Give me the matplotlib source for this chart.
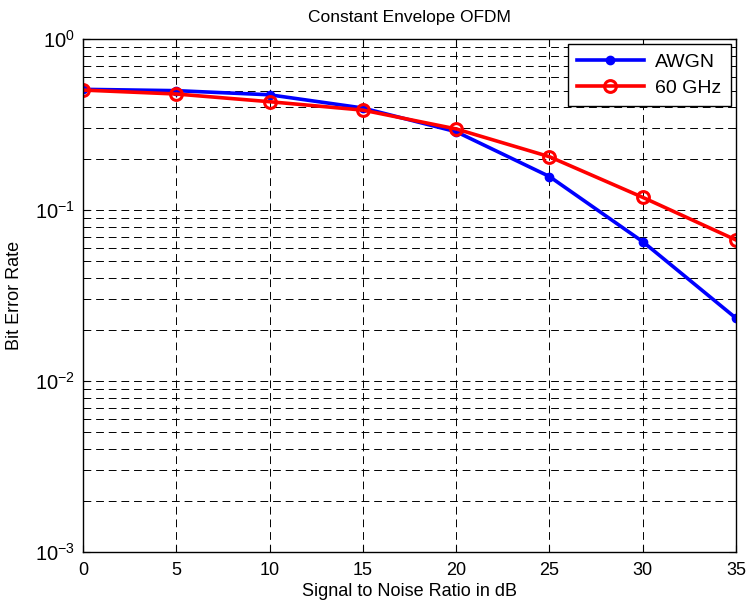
import matplotlib
matplotlib.use("Agg")
import matplotlib.pyplot as plt
from matplotlib.ticker import LogLocator, FixedLocator

plt.rcParams['font.family'] = ['Liberation Sans', 'DejaVu Sans']

# data
snr_db = [0, 5, 10, 15, 20, 25, 30, 35]
ber_awgn = [0.508, 0.499, 0.472, 0.395, 0.287, 0.157, 0.0653, 0.0233]
ber_60ghz = [0.503, 0.477, 0.430, 0.384, 0.298, 0.205, 0.1186, 0.0668]
x_ticks = [0, 5, 10, 15, 20, 25, 30, 35]

fig = plt.figure(figsize=(7.49, 6.07), dpi=100)
ax = fig.add_axes([0.1108, 0.0906, 0.8719, 0.8451])

ax.semilogy(snr_db, ber_awgn, color='blue', lw=2.6, marker='o', ms=6,
            mfc='blue', mec='blue', label='AWGN')
ax.semilogy(snr_db, ber_60ghz, color='red', lw=2.6, marker='o', ms=8.5,
            mfc='none', mec='red', mew=2.2, label='60 GHz')

ax.set_xlim(0, 35)
ax.set_ylim(1e-3, 1)
ax.xaxis.set_major_locator(FixedLocator(x_ticks))
ax.yaxis.set_major_locator(LogLocator(base=10, numticks=10))
ax.yaxis.set_minor_locator(LogLocator(base=10, subs=range(2, 10), numticks=10))

dash = (0, (8, 5))
ax.grid(True, which='major', axis='both', color='black', ls=dash, lw=0.7)
ax.grid(True, which='minor', axis='y', color='black', ls=dash, lw=0.7)
ax.tick_params(which='both', direction='in', top=True, right=True)
ax.tick_params(axis='x', labelsize=13, pad=7)
ax.tick_params(axis='y', labelsize=14.5, pad=6)
ax.tick_params(which='major', length=5)
ax.tick_params(which='minor', length=3)
for s in ax.spines.values():
    s.set_linewidth(1.0)

ax.set_title('Constant Envelope OFDM', fontsize=12.5, pad=12)
ax.set_xlabel('Signal to Noise Ratio in dB', fontsize=13, labelpad=3)
ax.set_ylabel('Bit Error Rate', fontsize=13, labelpad=8)

leg = ax.legend(loc='upper right', fontsize=14, fancybox=False, framealpha=1,
                edgecolor='black', borderaxespad=0.25, handlelength=3.4,
                borderpad=0.5, labelspacing=0.4, handletextpad=0.6)
leg.get_frame().set_linewidth(1.0)

fig.savefig('out.png', dpi=100)
